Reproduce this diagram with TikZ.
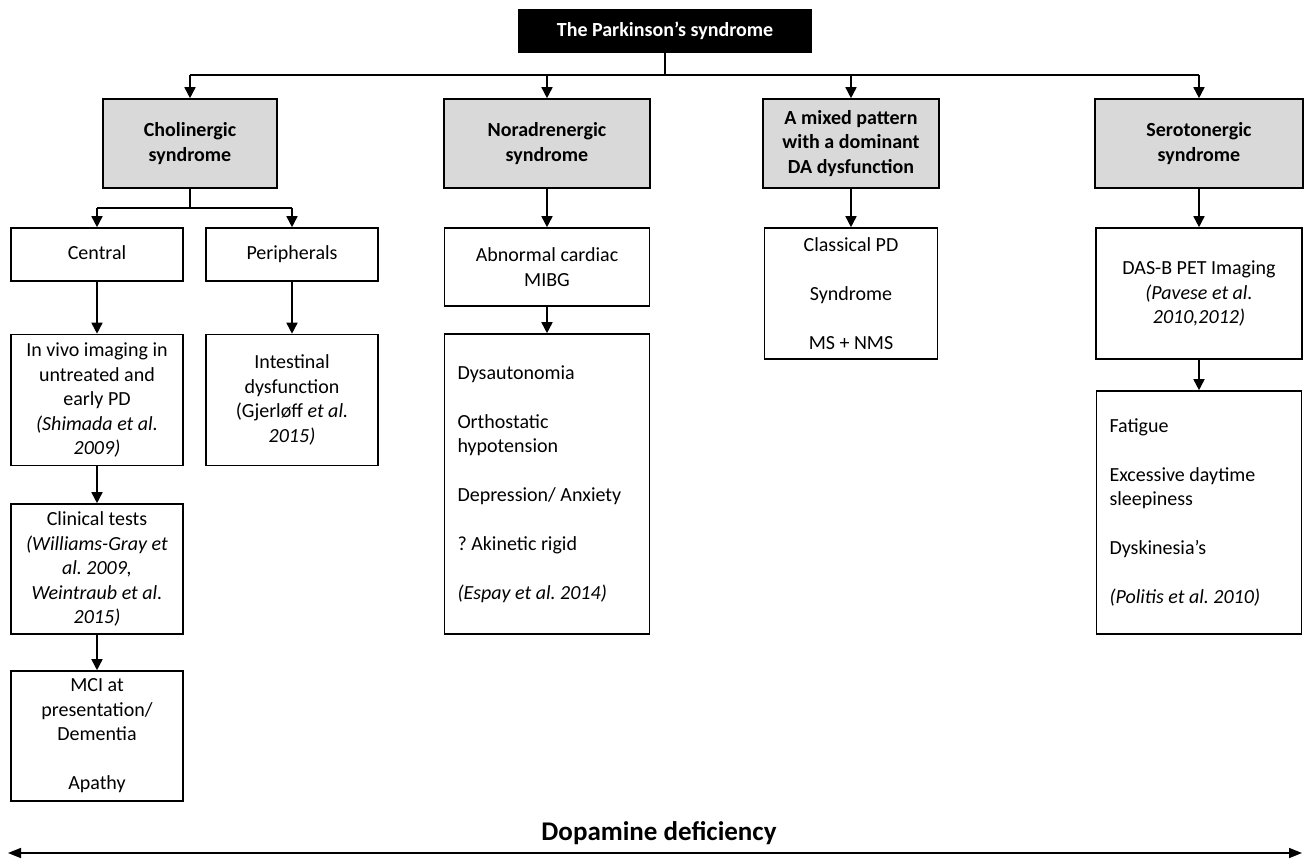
\documentclass[tikz,border=0pt]{standalone}
\usepackage{fontspec}
\setmainfont{Carlito}
\usetikzlibrary{arrows.meta}
\definecolor{headgray}{RGB}{217,217,217}
\frenchspacing
\begin{document}
\begin{tikzpicture}[x=1pt,y=-1pt,
  box/.style={draw=black,line width=1.6pt,inner sep=0pt,align=center,font=\frenchspacing\fontsize{20}{24.5}\selectfont},
  head/.style={box,fill=headgray,font=\frenchspacing\bfseries\fontsize{20}{24.5}\selectfont},
  lbox/.style={box,align=flush left},
  arr/.style={line width=1.6pt,-{Triangle[width=11pt,length=11pt]}},
  ln/.style={line width=1.6pt}]
\useasboundingbox (0,0) rectangle (1304,859);

% title
\node[box,fill=black,text=white,font=\bfseries\fontsize{20}{24}\selectfont,minimum width=292pt,minimum height=42pt] (title) at (665,31) {The Parkinson’s syndrome};

% headers
\node[head,minimum width=174pt,minimum height=89pt] (chol) at (190,143.5) {Cholinergic\\syndrome};
\node[head,minimum width=206pt,minimum height=89pt] (nor) at (547,143.5) {Noradrenergic\\syndrome};
\node[head,minimum width=176pt,minimum height=89pt] (mix) at (851,143.5) {A mixed pattern\\with a dominant\\DA dysfunction};
\node[head,minimum width=208pt,minimum height=89pt] (ser) at (1199,143.5) {Serotonergic\\syndrome};

% second row
\node[box,minimum width=172pt,minimum height=53pt] (cen) at (97,254.5) {\strut Central};
\node[box,minimum width=172pt,minimum height=53pt] (per) at (292,254.5) {\strut Peripherals};
\node[box,minimum width=205pt,minimum height=78pt] (abn) at (547,267) {Abnormal cardiac\\MIBG};
\node[box,minimum width=173pt,minimum height=131pt] (cla) at (851,293.5) {Classical PD\\[24.5pt]Syndrome\\[24.5pt]MS + NMS};
\node[box,minimum width=206pt,minimum height=131pt] (das) at (1199,293.5) {DAS-B PET Imaging\\\textit{(Pavese et al.}\\\textit{2010,2012)}};

% third row
\node[box,minimum width=172pt,minimum height=131pt] (viv) at (97,400) {In vivo imaging in\\untreated and\\early PD\\\textit{(Shimada et al.}\\\textit{2009)}};
\node[box,minimum width=172pt,minimum height=131pt] (int) at (292,400) {Intestinal\\dysfunction\\(Gjerløff \textit{et al.}\\\textit{2015)}};
\node[lbox,text width=179pt,minimum width=205pt,minimum height=300pt] (dys) at (547,484) {Dysautonomia\\[24.5pt]Orthostatic\\hypotension\\[24.5pt]Depression/ Anxiety\\[24.5pt]? Akinetic rigid\\[24.5pt]\textit{(Espay et al. 2014)}};
\node[lbox,text width=179pt,minimum width=205pt,minimum height=243pt] (fat) at (1199,512.5) {Fatigue\\[24.5pt]Excessive daytime\\sleepiness\\[24.5pt]Dyskinesia's\\[24.5pt]\textit{(Politis et al. 2010)}};

% lower left
\node[box,minimum width=172pt,minimum height=130pt] (cli) at (97,569) {Clinical tests\\\textit{(Williams-Gray et}\\\textit{al. 2009,}\\\textit{Weintraub et al.}\\\textit{2015)}};
\node[box,minimum width=172pt,minimum height=130pt] (mci) at (97,736) {MCI at\\presentation/\\Dementia\\[24.5pt]Apathy};

% connectors from title
\coordinate (hub) at (665,75);
\coordinate (h1) at (190,75);
\coordinate (h2) at (547,75);
\coordinate (h3) at (851,75);
\coordinate (h4) at (1199,75);
\draw[ln] (title) -- (hub);
\draw[ln] (h1) -- (h4);
\draw[arr] (h1) -- (chol);
\draw[arr] (h2) -- (nor);
\draw[arr] (h3) -- (mix);
\draw[arr] (h4) -- (ser);

% cholinergic split
\coordinate (cj) at (190,208);
\coordinate (cl) at (97,208);
\coordinate (cr) at (292,208);
\draw[ln] (chol) -- (cj);
\draw[ln] (cl) -- (cr);
\draw[arr] (cl) -- (cen);
\draw[arr] (cr) -- (per);

% vertical chains
\draw[arr] (cen) -- (viv);
\draw[arr] (viv) -- (cli);
\draw[arr] (cli) -- (mci);
\draw[arr] (per) -- (int);
\draw[arr] (nor) -- (abn);
\draw[arr] (abn) -- (dys);
\draw[arr] (mix) -- (cla);
\draw[arr] (ser) -- (das);
\draw[arr] (das) -- (fat);

% dopamine deficiency axis
\node[font=\bfseries\fontsize{27}{30}\selectfont,inner sep=0pt] (dop) at (659,833) {Dopamine deficiency};
\coordinate (dl) at (8,853);
\coordinate (dr) at (1302,853);
\draw[line width=1.6pt,{Triangle[width=10pt,length=13pt]}-{Triangle[width=10pt,length=13pt]}] (dl) -- (dr);
\end{tikzpicture}
\end{document}
